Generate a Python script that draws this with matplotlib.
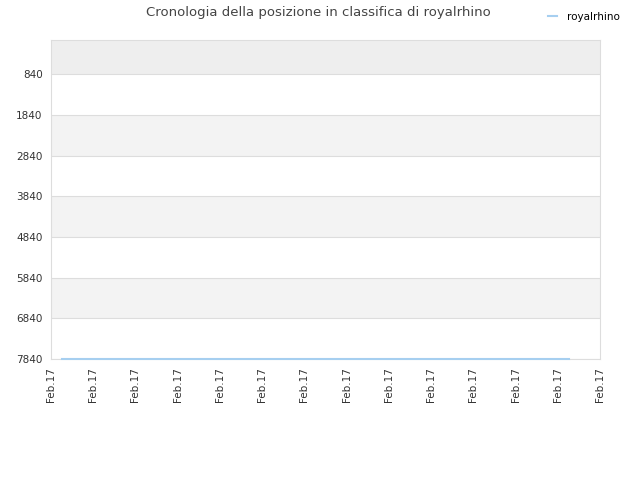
import matplotlib
matplotlib.use("Agg")
import matplotlib.pyplot as plt

title = "Cronologia della posizione in classifica di royalrhino"
series_name = "royalrhino"
x_ticks = list(range(14))
x_labels = ["Feb.17"] * 14
y_ticks = [840, 1840, 2840, 3840, 4840, 5840, 6840, 7840]
line_x = [0.26, 12.27]
line_y = [7840, 7840]

fig = plt.figure(figsize=(6.4, 4.8), dpi=100)
ax = fig.add_axes([51/640, 121/480, 549/640, 319/480])

ax.set_xlim(0, 13)
ax.set_ylim(7840, 0)

# bands
ax.axhspan(0, 840, color="#eeeeee", zorder=0, lw=0)
for i in range(len(y_ticks) - 1):
    if i % 2 == 1:
        ax.axhspan(y_ticks[i], y_ticks[i + 1], color="#f3f3f3", zorder=0, lw=0)
for y in y_ticks:
    ax.axhline(y, color="#dddddd", lw=0.8, zorder=1)

ax.plot(line_x, line_y, color="#a6cff0", lw=1.5, zorder=3, label=series_name,
        clip_on=False)

ax.set_yticks(y_ticks)
ax.set_yticklabels([str(v) for v in y_ticks], fontsize=7.5, color="#333333")
ax.set_xticks(x_ticks)
ax.set_xticklabels(x_labels, rotation=90, fontsize=7.5, color="#333333")
ax.tick_params(length=0, pad=6)

for s in ax.spines.values():
    s.set_color("#dddddd")
    s.set_linewidth(0.8)

fig.text(0.497, 0.973, title, ha="center", va="center", fontsize=9.5, color="#444444")
fig.legend(loc="upper right", bbox_to_anchor=(0.983, 0.995), frameon=False,
           fontsize=7.5, handlelength=0.9, handletextpad=0.9)

fig.savefig("out.png", dpi=100)
